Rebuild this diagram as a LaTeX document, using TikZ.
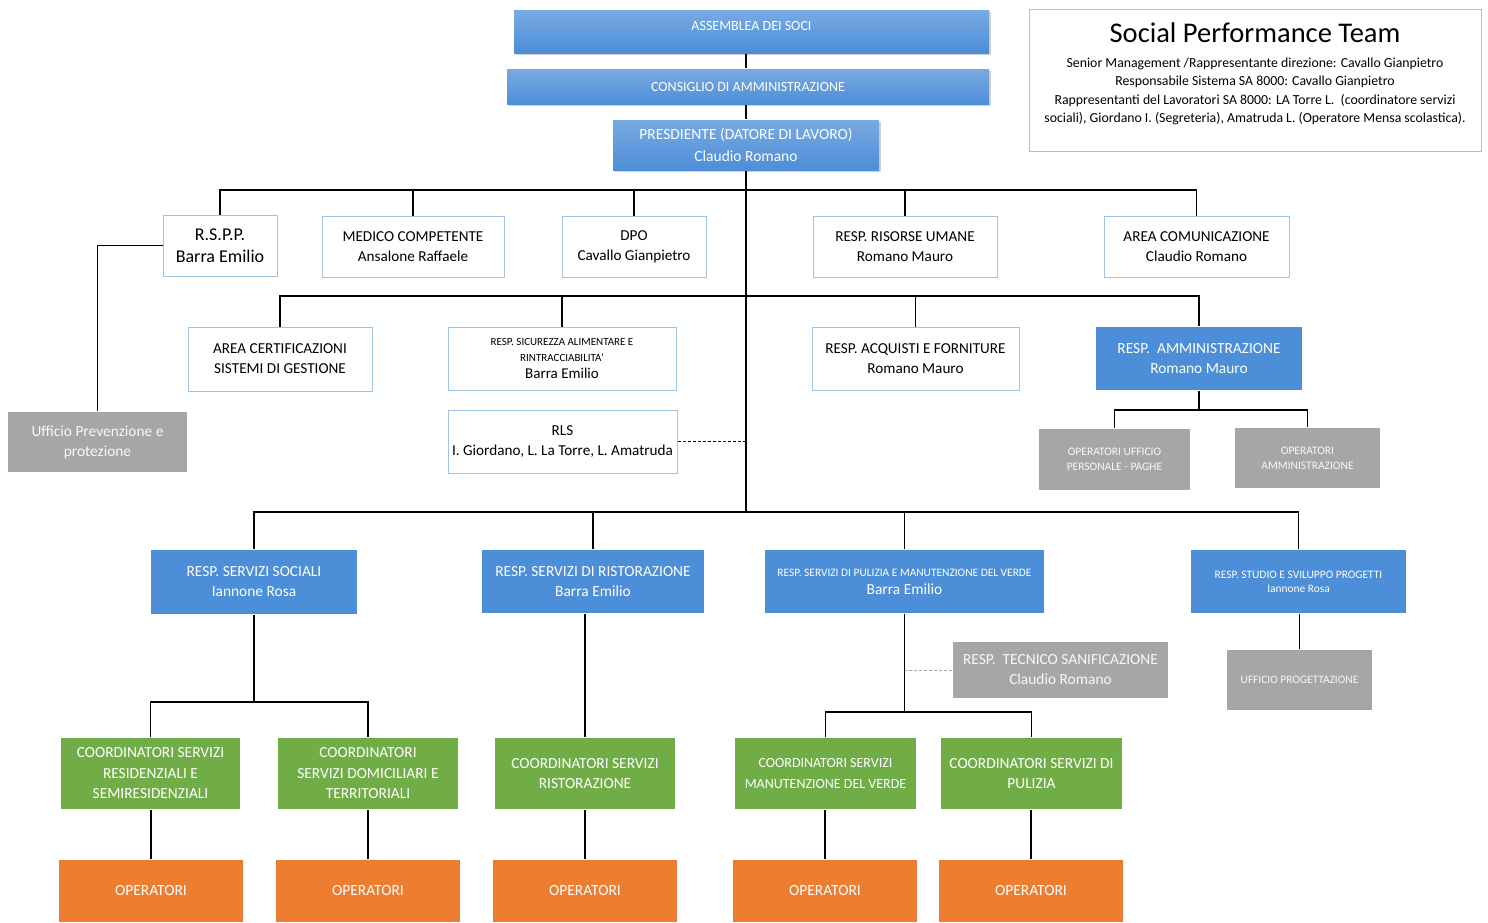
\documentclass[tikz,border=0pt]{standalone}
\usepackage{fontspec}
\setmainfont{Carlito}
\usetikzlibrary{positioning,shadows}
\definecolor{bordo}{HTML}{9DC3E6}
\definecolor{blu}{HTML}{4C8ED8}
\definecolor{verde}{HTML}{70AD47}
\definecolor{arancio}{HTML}{ED7D31}
\definecolor{grigio}{HTML}{A6A6A6}
\newcommand\fsz[2]{\fontsize{#1}{#2}\selectfont}

\begin{document}
\begin{tikzpicture}[x=1pt,y=-1pt,line width=1.5pt,
  sz/.style 2 args={minimum width=#1pt,minimum height=#2pt},
  box/.style={draw=bordo,line width=1pt,fill=white,align=center,inner sep=2pt,font=\fsz{15.2}{20}},
  bluebox/.style={fill=blu,text=white,align=center,inner sep=2pt,font=\fsz{15.4}{20}},
  topbox/.style={bluebox,top color=blu!75!white,bottom color=blu,drop shadow={opacity=0.35,shadow xshift=2pt,shadow yshift=-2pt}},
  greybox/.style={fill=grigio,text=white!92!grigio,align=center,inner sep=2pt,font=\fsz{15.4}{20}},
  greenbox/.style={fill=verde,text=white,align=center,inner sep=2pt,font=\fsz{15.4}{20.5}},
  orangebox/.style={fill=arancio,text=white,align=center,inner sep=2pt,font=\fsz{15.5}{20}},
  dashline/.style={line width=1pt,dash pattern=on 3pt off 2pt}]
\useasboundingbox[fill=white] (0,0) rectangle (1488,922);

\node[topbox,sz={475}{43},font=\fsz{14}{16},text depth=12pt] (asm) at (751.5,31.5) {ASSEMBLEA DEI SOCI};
\node[topbox,sz={482}{35},font=\fsz{14}{16}] (cda) at (748,86.5) {CONSIGLIO DI AMMINISTRAZIONE};
\node[topbox,sz={266}{50},font=\fsz{15.5}{22}] (pres) at (746,145) {PRESDIENTE (DATORE DI LAVORO)\\Claudio Romano};
\node[draw=bordo,line width=1pt,sz={452}{142}] (spt) at (1255,80) {};
\node[anchor=north,align=center,inner sep=0pt,font=\fsz{13.8}{18.5}] (spttxt) at (1255,22)
  {{\fsz{28.5}{30}Social Performance Team}\\[6pt]
   Senior Management /Rappresentante direzione: Cavallo Gianpietro\\
   Responsabile Sistema SA 8000: Cavallo Gianpietro\\
   Rappresentanti del Lavoratori SA 8000: LA Torre L.\ \ (coordinatore servizi\\
   sociali), Giordano I. (Segreteria), Amatruda L. (Operatore Mensa scolastica).};

\node[box,sz={114}{61},font=\fsz{18}{22}] (rspp) at (220,245.5) {R.S.P.P.\\Barra Emilio};
\node[box,sz={182}{61}] (medico) at (413,246.5) {MEDICO COMPETENTE\\Ansalone Raffaele};
\node[box,sz={144}{61}] (dpo) at (634,246.5) {DPO\\Cavallo Gianpietro};
\node[box,sz={184}{61}] (risorse) at (905,246.5) {RESP. RISORSE UMANE\\Romano Mauro};
\node[box,sz={185}{61}] (comun) at (1196.5,246.5) {AREA COMUNICAZIONE\\Claudio Romano};

\node[box,sz={184}{64}] (cert) at (280,359) {AREA CERTIFICAZIONI\\SISTEMI DI GESTIONE};
\node[box,sz={228}{63},font=\fsz{11}{16}] (sicur) at (562,358.5) {RESP. SICUREZZA ALIMENTARE E\\RINTRACCIABILITA'\\[1pt]{\fsz{15}{16}Barra Emilio}};
\node[box,sz={207}{63}] (acq) at (915.5,358.5) {RESP. ACQUISTI E FORNITURE\\Romano Mauro};
\node[bluebox,sz={206}{63}] (amm) at (1199,358.5) {RESP.\ \ AMMINISTRAZIONE\\Romano Mauro};
\node[box,sz={229}{63}] (rls) at (562.5,441.5) {RLS\\I. Giordano, L. La Torre, L. Amatruda};
\node[greybox,sz={179}{60}] (uprev) at (97.5,442) {Ufficio Prevenzione e\\protezione};
\node[greybox,sz={151}{61},font=\fsz{11.5}{15}] (opuff) at (1114.5,459.5) {OPERATORI UFFICIO\\PERSONALE - PAGHE};
\node[greybox,sz={145}{60},font=\fsz{11.5}{15}] (opamm) at (1307.5,458) {OPERATORI\\AMMINISTRAZIONE};

\node[bluebox,sz={206}{64}] (sociali) at (254,582) {RESP. SERVIZI SOCIALI\\Iannone Rosa};
\node[bluebox,sz={222}{63}] (ristor) at (593,581.5) {RESP. SERVIZI DI RISTORAZIONE\\Barra Emilio};
\node[bluebox,sz={279}{63},font=\fsz{11.4}{18}] (pulizia) at (904.5,581.5) {RESP. SERVIZI DI PULIZIA E MANUTENZIONE DEL VERDE\\{\fsz{15.4}{16}Barra Emilio}};
\node[bluebox,sz={215}{63},font=\fsz{11.4}{14}] (studio) at (1298.5,581.5) {RESP. STUDIO E SVILUPPO PROGETTI\\Iannone Rosa};
\node[greybox,sz={145}{60},font=\fsz{11.4}{14}] (uprog) at (1299.5,680) {UFFICIO PROGETTAZIONE};
\node[greybox,sz={215}{56}] (tecn) at (1060.5,670) {RESP.\ \ TECNICO SANIFICAZIONE\\Claudio Romano};

\node[greenbox,sz={179}{71}] (c1) at (150.5,773.5) {COORDINATORI SERVIZI\\RESIDENZIALI E\\SEMIRESIDENZIALI};
\node[greenbox,sz={180}{71}] (c2) at (368,773.5) {COORDINATORI\\SERVIZI DOMICILIARI E\\TERRITORIALI};
\node[greenbox,sz={180}{71}] (c3) at (585,773.5) {COORDINATORI SERVIZI\\RISTORAZIONE};
\node[greenbox,sz={181}{71},font=\fsz{14}{20.5}] (c4) at (825.5,773.5) {COORDINATORI SERVIZI\\MANUTENZIONE DEL VERDE};
\node[greenbox,sz={181}{71}] (c5) at (1031.5,773.5) {COORDINATORI SERVIZI DI\\PULIZIA};

\node[orangebox,sz={184}{62}] (o1) at (151,891) {OPERATORI};
\node[orangebox,sz={184}{62}] (o2) at (368,891) {OPERATORI};
\node[orangebox,sz={184}{62}] (o3) at (585,891) {OPERATORI};
\node[orangebox,sz={184}{62}] (o4) at (825,891) {OPERATORI};
\node[orangebox,sz={184}{62}] (o5) at (1031,891) {OPERATORI};

\coordinate (b1) at (0,190);
\coordinate (b2) at (0,296);
\coordinate (b3) at (0,512);
\coordinate (b4) at (0,410);
\coordinate (b5) at (0,702);
\coordinate (b6) at (0,712);

\draw (asm.south -| pres.north) -- (cda.north -| pres.north);
\draw (cda.south -| pres.north) -- (pres.north);
\draw (pres.south) -- (pres.south |- b3);
\draw (rspp.north) -- (rspp.north |- b1) -- (comun.north |- b1) -- (comun.north);
\foreach \n in {medico,dpo,risorse}
  \draw (\n.north) -- (\n.north |- b1);
\draw (cert.north) -- (cert.north |- b2) -- (amm.north |- b2) -- (amm.north);
\foreach \n in {sicur,acq}
  \draw (\n.north) -- (\n.north |- b2);
\draw (rspp.west) -| (uprev.north);
\draw[dashline] (rls.east) -- (rls.east -| pres.south);
\draw (amm.south) -- (amm.south |- b4);
\draw (opuff.north) -- (opuff.north |- b4) -- (opamm.north |- b4) -- (opamm.north);
\draw (sociali.north) -- (sociali.north |- b3) -- (studio.north |- b3) -- (studio.north);
\foreach \n in {ristor,pulizia}
  \draw (\n.north) -- (\n.north |- b3);
\draw (uprog.north) -- (uprog.north |- studio.south);
\draw (sociali.south) -- (sociali.south |- b5);
\draw (c1.north) -- (c1.north |- b5) -- (c2.north |- b5) -- (c2.north);
\draw (c3.north) -- (c3.north |- ristor.south);
\draw (pulizia.south) -- (pulizia.south |- b6);
\draw (c4.north) -- (c4.north |- b6) -- (c5.north |- b6) -- (c5.north);
\draw[dashline,draw=grigio] (tecn.west) -- (tecn.west -| pulizia.south);
\foreach \i in {1,...,5}
  \draw (o\i.north) -- (o\i.north |- c\i.south);
\end{tikzpicture}
\end{document}
